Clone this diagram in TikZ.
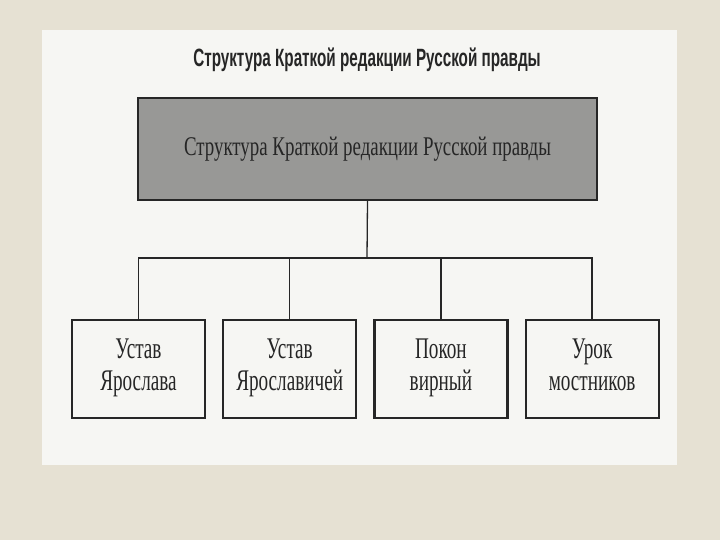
\documentclass[tikz,border=0pt]{standalone}
\usepackage{fontspec}
\setmainfont{Liberation Serif}
\newfontfamily\headfont{Liberation Sans}[FakeStretch=0.61]
\newfontfamily\boxfont{Liberation Serif}[FakeStretch=0.70]
\newfontfamily\partfont{Liberation Serif}[FakeStretch=0.64]
\usetikzlibrary{positioning}
\definecolor{paper}{RGB}{230,225,211}
\definecolor{sheet}{RGB}{246,246,243}
\definecolor{ink}{RGB}{38,38,38}
\definecolor{shade}{RGB}{152,152,150}
\tikzset{
	every node/.style={align=center,text=ink},
	headbox/.style={draw=ink,fill=shade,line width=2.2pt,minimum width=459pt,minimum height=102pt,inner sep=0pt,font=\boxfont\fontsize{27}{30}\selectfont},
	partbox/.style={draw=ink,line width=2.2pt,minimum width=133pt,minimum height=98pt,inner sep=0pt,font=\partfont\fontsize{30}{32}\selectfont,
		execute at begin node=\strut,execute at end node=\strut},
	link/.style={draw=ink,line width=1.3pt},
}

\begin{document}
\begin{tikzpicture}[x=1pt,y=-1pt]
	% background..........................
	\fill [paper] (0,0) rectangle (720,540);
	\fill [sheet] (42,30) rectangle (677,465);

	% title...............................
	\node (title) at (367,60) {\headfont\bfseries\fontsize{25}{28}\selectfont Структура Краткой редакции Русской правды};

	% main box............................
	\node [headbox] (pravda) at (367.5,149) {Структура Краткой редакции Русской правды};

	% parts...............................
	\node [partbox] (ustav) at (138.5,369) {Устав\\Ярослава};
	\node [partbox, right=16pt of ustav] (ustavsons) {Устав\\Ярославичей};
	\node [partbox, right=16pt of ustavsons] (pokon) {Покон\\вирный};
	\node [partbox, right=16pt of pokon] (urok) {Урок\\мостников};

	% links...............................
	\coordinate (bus) at (367,258);
	\draw [link] (pravda.south) -- (bus);
	\draw [link] (ustav.north) |- (urok.north |- bus) -- (urok.north);
	\draw [link] (ustavsons.north) -- (ustavsons.north |- bus);
	\draw [link] (pokon.north) -- (pokon.north |- bus);
\end{tikzpicture}
\end{document}
